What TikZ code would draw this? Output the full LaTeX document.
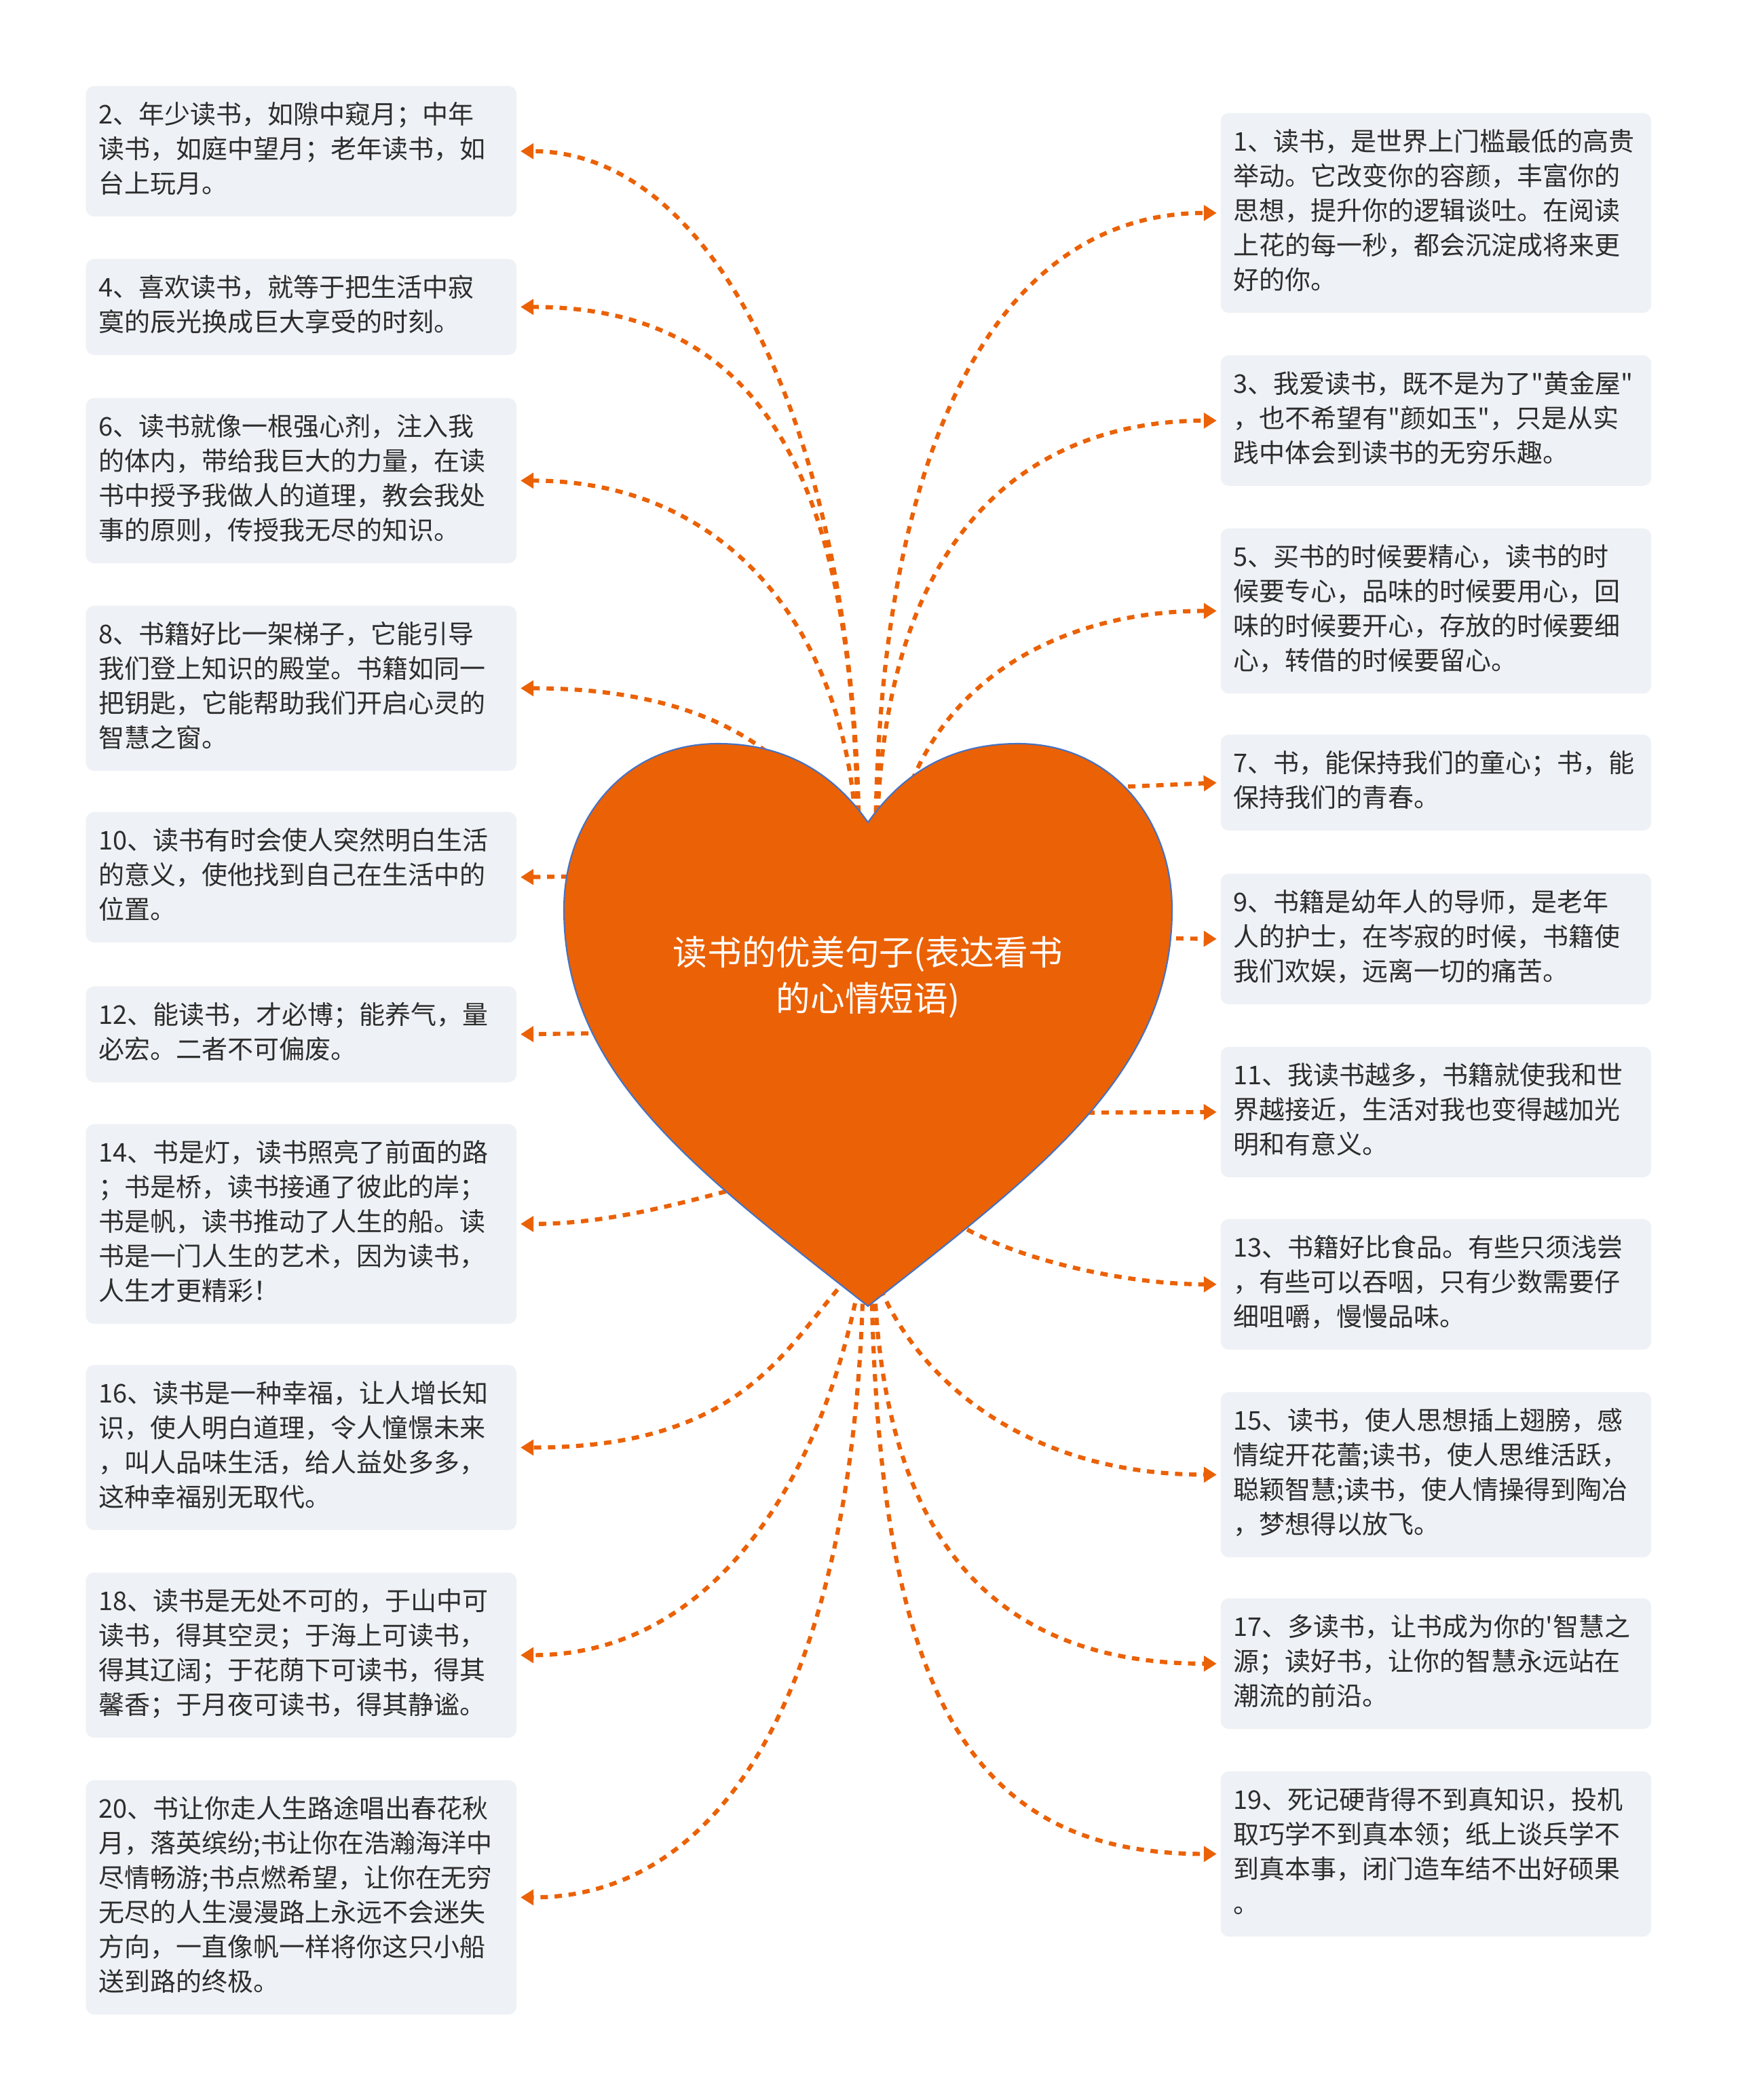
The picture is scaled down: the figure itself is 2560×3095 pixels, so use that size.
\documentclass[tikz,border=0pt]{standalone}
\usepackage{fontspec}
\newfontfamily\cjk{Noto Sans CJK SC}
\usetikzlibrary{arrows.meta}
\definecolor{heartorange}{RGB}{235,97,5}
\definecolor{heartline}{RGB}{68,114,196}
\definecolor{boxfill}{RGB}{238,241,245}
\definecolor{boxtext}{RGB}{45,45,45}
\tikzstyle{sentence}=[anchor=north west,fill=boxfill,rounded corners=3.4pt,text width=169.6pt,inner xsep=5.4pt,inner ysep=5.6pt,align=left,text=boxtext,font=\cjk\fontsize{10.8pt}{14.5pt}\selectfont,execute at begin node=\strut,execute at end node=\strut]
\tikzstyle{dashlink}=[draw=heartorange,line width=1.75pt,dash pattern=on 3.1pt off 2.8pt,-{Triangle[length=5.4pt,width=6.4pt]},shorten >=1.5pt]

\begin{document}
\begin{tikzpicture}[x=0.01cm,y=-0.01cm]
    \fill[white] (0,0) rectangle (2560,3095);
    \useasboundingbox (0,0) rectangle (2560,3095);

    % Sentences on the left
    \foreach \pos/\name/\txt in {
        {(126,126)/b2/{2、年少读书，如隙中窥月；中年\\读书，如庭中望月；老年读书，如\\台上玩月。}},
        {(126,381)/b4/{4、喜欢读书，就等于把生活中寂\\寞的辰光换成巨大享受的时刻。}},
        {(126,586)/b6/{6、读书就像一根强心剂，注入我\\的体内，带给我巨大的力量，在读\\书中授予我做人的道理，教会我处\\事的原则，传授我无尽的知识。}},
        {(126,892)/b8/{8、书籍好比一架梯子，它能引导\\我们登上知识的殿堂。书籍如同一\\把钥匙，它能帮助我们开启心灵的\\智慧之窗。}},
        {(126,1196)/b10/{10、读书有时会使人突然明白生活\\的意义，使他找到自己在生活中的\\位置。}},
        {(126,1453)/b12/{12、能读书，才必博；能养气，量\\必宏。二者不可偏废。}},
        {(126,1656)/b14/{14、书是灯，读书照亮了前面的路\\；书是桥，读书接通了彼此的岸；\\书是帆，读书推动了人生的船。读\\书是一门人生的艺术，因为读书，\\人生才更精彩！}},
        {(126,2011)/b16/{16、读书是一种幸福，让人增长知\\识，使人明白道理，令人憧憬未来\\，叫人品味生活，给人益处多多，\\这种幸福别无取代。}},
        {(126,2317)/b18/{18、读书是无处不可的，于山中可\\读书，得其空灵；于海上可读书，\\得其辽阔；于花荫下可读书，得其\\馨香；于月夜可读书，得其静谧。}},
        {(126,2623)/b20/{20、书让你走人生路途唱出春花秋\\月，落英缤纷;书让你在浩瀚海洋中\\尽情畅游;书点燃希望，让你在无穷\\无尽的人生漫漫路上永远不会迷失\\方向，一直像帆一样将你这只小船\\送到路的终极。}}}
        \node[sentence] (\name) at \pos {\txt};

    % Sentences on the right
    \foreach \pos/\name/\txt in {
        {(1798,166)/b1/{1、读书，是世界上门槛最低的高贵\\举动。它改变你的容颜，丰富你的\\思想，提升你的逻辑谈吐。在阅读\\上花的每一秒，都会沉淀成将来更\\好的你。}},
        {(1798,523)/b3/{3、我爱读书，既不是为了"黄金屋"\\，也不希望有"颜如玉"，只是从实\\践中体会到读书的无穷乐趣。}},
        {(1798,778)/b5/{5、买书的时候要精心，读书的时\\候要专心，品味的时候要用心，回\\味的时候要开心，存放的时候要细\\心，转借的时候要留心。}},
        {(1798,1082)/b7/{7、书，能保持我们的童心；书，能\\保持我们的青春。}},
        {(1798,1287)/b9/{9、书籍是幼年人的导师，是老年\\人的护士，在岑寂的时候，书籍使\\我们欢娱，远离一切的痛苦。}},
        {(1798,1542)/b11/{11、我读书越多，书籍就使我和世\\界越接近，生活对我也变得越加光\\明和有意义。}},
        {(1798,1796)/b13/{13、书籍好比食品。有些只须浅尝\\，有些可以吞咽，只有少数需要仔\\细咀嚼，慢慢品味。}},
        {(1798,2051)/b15/{15、读书，使人思想插上翅膀，感\\情绽开花蕾;读书，使人思维活跃，\\聪颖智慧;读书，使人情操得到陶冶\\，梦想得以放飞。}},
        {(1798,2355)/b17/{17、多读书，让书成为你的\textquotesingle 智慧之\\源；读好书，让你的智慧永远站在\\潮流的前沿。}},
        {(1798,2610)/b19/{19、死记硬背得不到真知识，投机\\取巧学不到真本领；纸上谈兵学不\\到真本事，闭门造车结不出好硕果\\。}}}
        \node[sentence] (\name) at \pos {\txt};

    % Where the links leave the heart (hidden under it)
    \foreach \pos/\name in {{(1266,1260)/s2}, {(1264,1260)/s4}, {(1262,1260)/s6}, {(1175,1150)/s8}, {(900,1291)/s10}, {(950,1522)/s12}, {(1150,1735)/s14}, {(1262,1870)/s16}, {(1268,1880)/s18}, {(1272,1880)/s20},
        {(1290,1260)/s1}, {(1292,1260)/s3}, {(1330,1190)/s5}, {(1600,1162)/s7}, {(1650,1382)/s9}, {(1540,1640)/s11}, {(1390,1790)/s13}, {(1290,1880)/s15}, {(1288,1880)/s17}, {(1284,1880)/s19}}
        \node[coordinate] (\name) at \pos {};

    % Curved links
    \foreach \s/\d/\ax/\ay/\bx in {s2/b2/0/-600/300, s4/b4/0/-510/390, s6/b6/0/-300/330, s8/b8/-80/-90/200, s14/b14/-120/30/150, s16/b16/-100/100/350, s18/b18/-50/280/300, s20/b20/-10/550/330}
        \draw[dashlink] (\s) .. controls +(\ax,\ay) and +(\bx,0) .. (\d.east);
    \foreach \s/\d/\ax/\ay/\bx in {s1/b1/0/-600/-330, s3/b3/0/-520/-240, s5/b5/60/-200/-220, s13/b13/80/60/-150, s15/b15/50/140/-298, s17/b17/12/370/-348, s19/b19/10/620/-368}
        \draw[dashlink] (\s) .. controls +(\ax,\ay) and +(\bx,0) .. (\d.west);

    % Short straight links
    \foreach \s/\d in {s10/b10, s12/b12}
        \draw[dashlink] (\s) -- (\d.east);
    \foreach \s/\d in {s7/b7, s9/b9, s11/b11}
        \draw[dashlink] (\s) -- (\d.west);

    % The heart
    \filldraw[fill=heartorange,draw=heartline,line width=0.6pt]
        (1279,1212) .. controls (1330,1140) and (1400,1096) .. (1500,1096)
        .. controls (1640,1096) and (1727,1210) .. (1727,1340)
        .. controls (1727,1580) and (1540,1720) .. (1279,1925)
        .. controls (1018,1720) and (831,1580) .. (831,1340)
        .. controls (831,1210) and (918,1096) .. (1058,1096)
        .. controls (1158,1096) and (1228,1140) .. cycle;
    \node[text=white,align=center,font=\cjk\fontsize{14.4pt}{19.4pt}\selectfont] (theme) at (1279,1440) {读书的优美句子(表达看书\\的心情短语)};
\end{tikzpicture}
\end{document}
